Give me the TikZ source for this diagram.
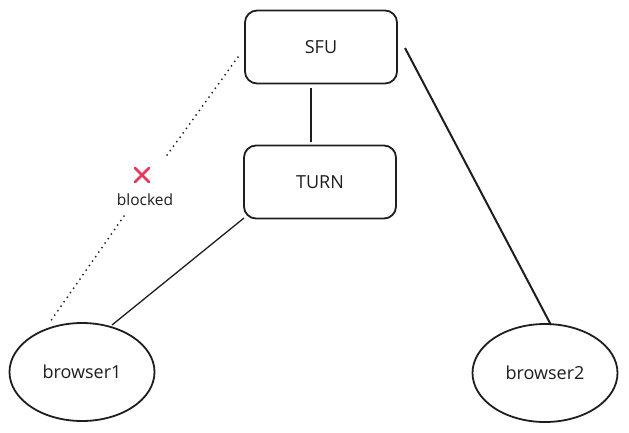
\documentclass[tikz,border=0pt]{standalone}
\usepackage{fontspec}
\setmainfont{Open Sans}
\usetikzlibrary{shapes.geometric,calc}
\definecolor{ink}{HTML}{1E1E1E}
\definecolor{xred}{HTML}{E8365D}
\tikzset{
  box/.style={draw=ink, line width=1.8pt, rounded corners=12pt, minimum width=152pt, minimum height=73pt, font=\fontsize{18}{20}\selectfont, text=ink},
  peer/.style={draw=ink, line width=1.8pt, ellipse, minimum width=145pt, minimum height=98pt, font=\fontsize{18}{20}\selectfont, text=ink},
  link/.style={draw=ink, line width=1.3pt},
  blockedlink/.style={draw=ink, line width=2pt, line cap=round, dash pattern=on 0pt off 5.5pt},
}
\begin{document}
\begin{tikzpicture}[x=1pt,y=-1pt]
\useasboundingbox (0,0) rectangle (629,432);
\node[box] (sfu) at (321,47) {SFU};
\node[box] (turn) at (320,182) {TURN};
\node[peer] (b1) at (82,372) {browser1};
\node[peer] (b2) at (545,373) {browser2};
\node[font=\fontsize{15.5}{17}\selectfont, text=ink, inner sep=1pt] (lbl) at (145,200) {blocked};
\coordinate (xm) at (142,175);
\draw[xred, line width=2.6pt, line cap=round] ($(xm)+(-7,-7)$) -- ($(xm)+(7,7)$) ($(xm)+(7,-7)$) -- ($(xm)+(-7,7)$);
\coordinate (s1) at (311,88);
\coordinate (t1) at (311,142);
\draw[link] (s1) -- (t1);
\coordinate (tb) at (244,218);
\coordinate (b1t) at (112,325);
\draw[link] (tb) -- (b1t);
\coordinate (sr) at (405,48);
\coordinate (b2t) at (551,325);
\draw[link, line width=2pt] (sr) -- (b2t);
\coordinate (d0) at (238,57);
\coordinate (d1) at (165,158);
\coordinate (d2) at (124,216);
\coordinate (d3) at (50,322);
\draw[blockedlink] (d0) -- (d1);
\draw[blockedlink] (d2) -- (d3);
\end{tikzpicture}
\end{document}
